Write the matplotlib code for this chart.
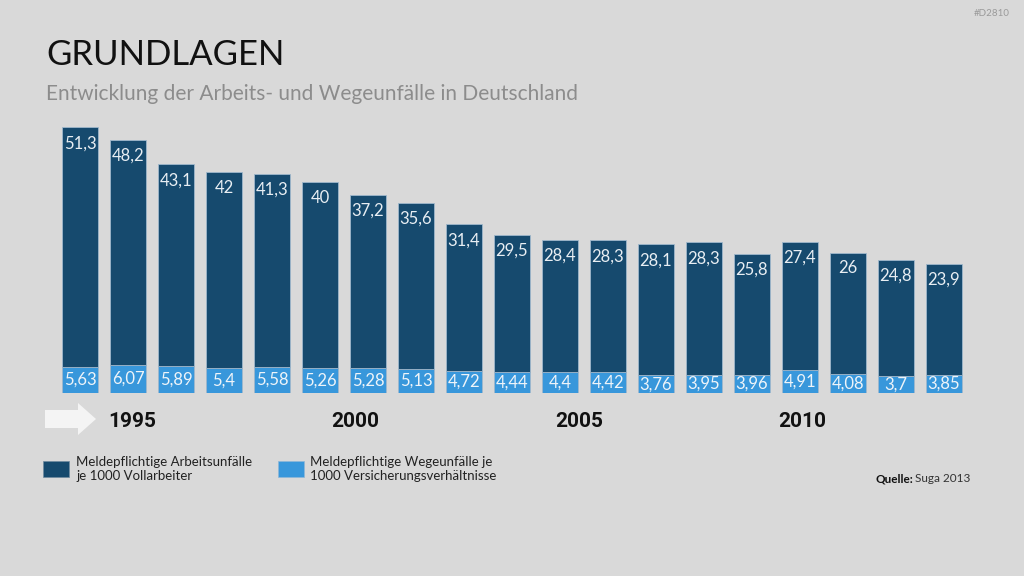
import matplotlib.pyplot as plt
from matplotlib.patches import Rectangle, Polygon

# data
years = list(range(1994, 2013))
arbeit = [51.3, 48.2, 43.1, 42, 41.3, 40, 37.2, 35.6, 31.4, 29.5, 28.4, 28.3, 28.1, 28.3, 25.8, 27.4, 26, 24.8, 23.9]
wege = [5.63, 6.07, 5.89, 5.4, 5.58, 5.26, 5.28, 5.13, 4.72, 4.44, 4.4, 4.42, 3.76, 3.95, 3.96, 4.91, 4.08, 3.7, 3.85]
year_labels = ['1995', '2000', '2005', '2010']
year_pos = [1.08, 5.73, 10.4, 15.04]  # decorative, not bar-aligned in the original

dark = '#164a6e'
light = '#3897db'
bg = '#d9d9d9'

plt.rcParams['font.family'] = ['Lato', 'DejaVu Sans']

fig = plt.figure(figsize=(10.24, 5.76), dpi=100, facecolor=bg)
ax = fig.add_axes([56 / 1024, 183 / 576, 912 / 1024, 280 / 576])
ax.set_facecolor(bg)

x = range(len(years))
ax.bar(x, wege, width=0.77, color=light, edgecolor='#9fb8cc', linewidth=0.6)
ax.bar(x, arbeit, bottom=wege, width=0.77, color=dark, edgecolor='#9fb8cc', linewidth=0.6)

def fmt(v):
    return ('%g' % v).replace('.', ',')

for i, (a, w) in enumerate(zip(arbeit, wege)):
    ax.text(i, a + w - 3.4, fmt(a), ha='center', va='center', color='#e8eef3', fontsize=12)
    ax.text(i, w / 2, fmt(w), ha='center', va='center', color='#eef4f9', fontsize=12)

ax.set_xlim(-0.5, 18.5)
ax.set_ylim(0, 60)
ax.axis('off')

for lbl, p in zip(year_labels, year_pos):
    ax.text(p, -6.2, lbl, ha='center', va='center', fontsize=15, fontweight='bold',
            family=['Liberation Sans Narrow', 'Roboto'], color='#111111')

# arrow
fig.patches.append(Polygon([(45 / 1024, 1 - 410 / 576), (78 / 1024, 1 - 410 / 576), (78 / 1024, 1 - 403 / 576),
                            (96 / 1024, 1 - 419 / 576), (78 / 1024, 1 - 435 / 576), (78 / 1024, 1 - 428 / 576),
                            (45 / 1024, 1 - 428 / 576)], closed=True, transform=fig.transFigure,
                           facecolor='#f4f4f4', edgecolor='none'))

fig.text(46 / 1024, 1 - 55 / 576, 'GRUNDLAGEN', fontsize=25, va='center', ha='left', color='#111111')
fig.text(46 / 1024, 1 - 94 / 576, 'Entwicklung der Arbeits- und Wegeunfälle in Deutschland',
         fontsize=15, va='center', ha='left', color='#8c8c8c')
fig.text(1010 / 1024, 1 - 14 / 576, '#D2810', fontsize=7, ha='right', va='center', color='#9a9a9a')

# legend
fig.patches.append(Rectangle((43 / 1024, 1 - 477 / 576), 26 / 1024, 16 / 576, transform=fig.transFigure,
                             facecolor=dark, edgecolor='#6f8aa0', linewidth=0.5))
fig.text(76 / 1024, 1 - 469 / 576, 'Meldepflichtige Arbeitsunfälle\nje 1000 Vollarbeiter',
         fontsize=9.5, va='center', ha='left', color='#222222', linespacing=1.3)
fig.patches.append(Rectangle((278 / 1024, 1 - 477 / 576), 26 / 1024, 16 / 576, transform=fig.transFigure,
                             facecolor=light, edgecolor='#8fb8d8', linewidth=0.5))
fig.text(310 / 1024, 1 - 469 / 576, 'Meldepflichtige Wegeunfälle je\n1000 Versicherungsverhältnisse',
         fontsize=9.5, va='center', ha='left', color='#222222', linespacing=1.3)

fig.text(875 / 1024, 1 - 479 / 576, 'Quelle:', fontsize=8.5, fontweight='bold', va='center', ha='left', color='#111111')
fig.text(915 / 1024, 1 - 479 / 576, 'Suga 2013', fontsize=8.5, va='center', ha='left', color='#333333')

fig.savefig('out.png', dpi=100, facecolor=bg)
